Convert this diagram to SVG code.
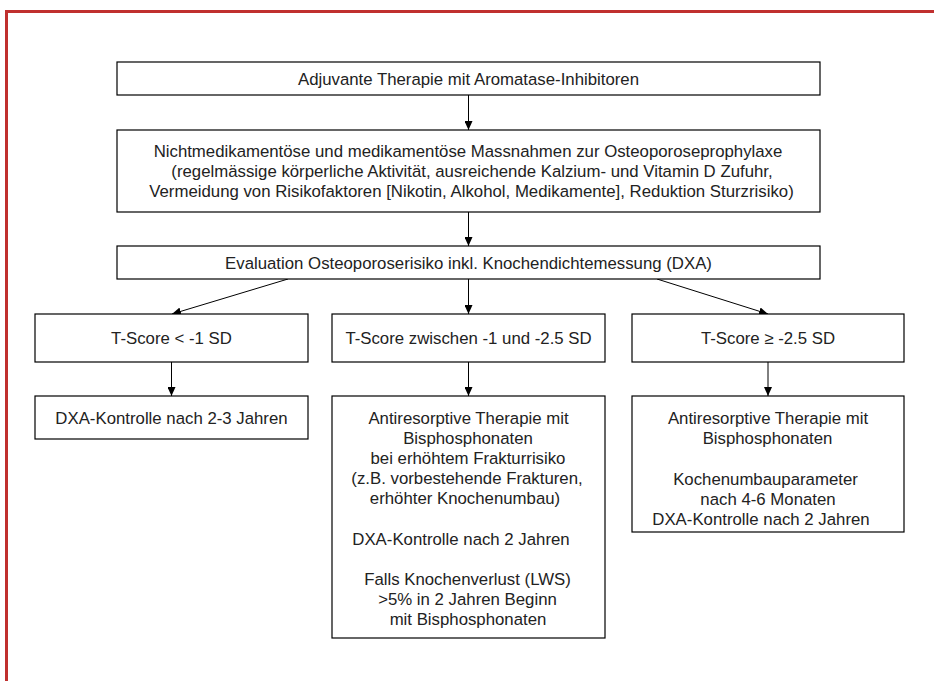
<svg xmlns="http://www.w3.org/2000/svg" width="934" height="681" viewBox="0 0 934 681">
<defs>
<style>
.box{fill:#fff;stroke:#000;stroke-width:1.2}
text{font-family:"Liberation Sans",Arial,sans-serif;font-size:16.8px;fill:#222;text-anchor:middle}
.c{stroke:#000;stroke-width:1;fill:none;marker-end:url(#ah)}
</style>
<marker id="ah" markerWidth="10" markerHeight="8" refX="9" refY="4" orient="auto" markerUnits="userSpaceOnUse">
<path d="M0,0 L9,4 L0,8 Z" fill="#000"/>
</marker>
</defs>
<rect width="934" height="681" fill="#fff"/>
<path d="M6.5,690 V11.5 H945" fill="none" stroke="#c0302f" stroke-width="3"/>
<g id="connectors">
<line class="c" x1="468.5" y1="95" x2="468.5" y2="130"/>
<line class="c" x1="468.5" y1="212" x2="468.5" y2="246"/>
<line class="c" x1="288" y1="279" x2="172" y2="314"/>
<line class="c" x1="468.5" y1="279" x2="468.5" y2="314"/>
<line class="c" x1="657" y1="279" x2="768" y2="314"/>
<line class="c" x1="171.5" y1="362" x2="171.5" y2="396"/>
<line class="c" x1="468.5" y1="362" x2="468.5" y2="396"/>
<line class="c" x1="768" y1="362" x2="768" y2="396"/>
</g>
<g id="n1"><rect class="box" x="117" y="62" width="703" height="33"/><text x="468.5" y="84.5">Adjuvante Therapie mit Aromatase-Inhibitoren</text></g>
<g id="n2"><rect class="box" x="117" y="130" width="703" height="82"/>
<text x="468" y="157">Nichtmedikamentöse und medikamentöse Massnahmen zur Osteoporoseprophylaxe</text>
<text x="472" y="177">(regelmässige körperliche Aktivität, ausreichende Kalzium- und Vitamin D Zufuhr,</text>
<text x="471.5" y="197">Vermeidung von Risikofaktoren [Nikotin, Alkohol, Medikamente], Reduktion Sturzrisiko)</text></g>
<g id="n3"><rect class="box" x="117" y="246" width="703" height="33"/><text x="468.5" y="268.5">Evaluation Osteoporoserisiko inkl. Knochendichtemessung (DXA)</text></g>
<g id="n4"><rect class="box" x="35" y="314" width="273" height="48"/><text x="171.5" y="344">T-Score &lt; -1 SD</text></g>
<g id="n5"><rect class="box" x="332" y="314" width="273" height="48"/><text x="468.5" y="344">T-Score zwischen -1 und -2.5 SD</text></g>
<g id="n6"><rect class="box" x="632" y="314" width="272" height="48"/><text x="768" y="344">T-Score ≥ -2.5 SD</text></g>
<g id="n7"><rect class="box" x="35" y="396" width="273" height="43"/><text x="171.5" y="424">DXA-Kontrolle nach 2-3 Jahren</text></g>
<g id="n8"><rect class="box" x="332" y="396" width="273" height="242"/>
<text x="468.5" y="424">Antiresorptive Therapie mit</text>
<text x="468" y="444">Bisphosphonaten</text>
<text x="468" y="464">bei erhöhtem Frakturrisiko</text>
<text x="467" y="484">(z.B. vorbestehende Frakturen,</text>
<text x="465" y="504">erhöhter Knochenumbau)</text>
<text x="461" y="545">DXA-Kontrolle nach 2 Jahren</text>
<text x="467.5" y="585">Falls Knochenverlust (LWS)</text>
<text x="467.5" y="605">&gt;5% in 2 Jahren Beginn</text>
<text x="468" y="625">mit Bisphosphonaten</text></g>
<g id="n9"><rect class="box" x="632" y="396" width="272" height="136"/>
<text x="768" y="424">Antiresorptive Therapie mit</text>
<text x="767.5" y="444">Bisphosphonaten</text>
<text x="765.5" y="485">Kochenumbauparameter</text>
<text x="768" y="505">nach 4-6 Monaten</text>
<text x="761" y="525">DXA-Kontrolle nach 2 Jahren</text></g>
</svg>
